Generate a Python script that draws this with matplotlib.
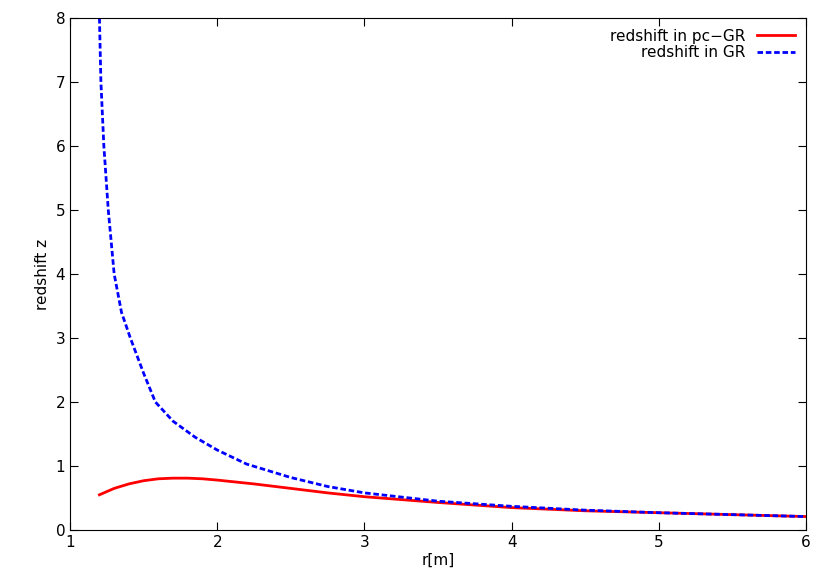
import matplotlib
matplotlib.use("Agg")
import matplotlib.pyplot as plt

r_gr = [1.2, 1.21, 1.23, 1.26, 1.30, 1.35, 1.41, 1.5, 1.58, 1.7, 1.85, 2.0, 2.2, 2.5, 2.75, 3.0, 3.5, 4.0, 4.5, 5.0, 5.5, 6.0]
z_gr = [8.0, 7.0, 6.0, 5.0, 4.0, 3.4, 3.0, 2.45, 2.0, 1.7, 1.45, 1.25, 1.03, 0.82, 0.68, 0.58, 0.45, 0.37, 0.31, 0.27, 0.24, 0.21]
r_pc = [1.2, 1.3, 1.4, 1.5, 1.6, 1.7, 1.8, 1.9, 2.0, 2.25, 2.5, 2.75, 3.0, 3.5, 4.0, 4.5, 5.0, 5.5, 6.0]
z_pc = [0.55, 0.65, 0.72, 0.77, 0.80, 0.81, 0.81, 0.80, 0.78, 0.72, 0.65, 0.58, 0.52, 0.43, 0.35, 0.30, 0.27, 0.24, 0.21]

fig = plt.figure(figsize=(8.3, 5.81), dpi=100)
ax = fig.add_axes([70/830, 51/581, 736/830, 512/581])
ax.plot(r_pc, z_pc, color="#ff0000", lw=2, label="redshift in pc\u2212GR")
ax.plot(r_gr, z_gr, color="#0000ff", lw=2, ls=(0, (2, 1)), label="redshift in GR")
ax.set_xlim(1, 6)
ax.set_ylim(0, 8)
ax.set_xticks(range(1, 7))
ax.set_yticks(range(0, 9))
ax.tick_params(direction="in", top=True, right=True, labelsize=11, length=6)
ax.set_xlabel("r[m]", fontsize=11, labelpad=2)
ax.set_ylabel("redshift z", fontsize=11)
leg = ax.legend(loc="upper right", frameon=False, fontsize=11, markerfirst=False,
                handlelength=2.5, borderaxespad=0.3, labelspacing=0.1)
for t in leg.get_texts():
    t.set_ha("right")
fig.savefig("out.png", dpi=100)
